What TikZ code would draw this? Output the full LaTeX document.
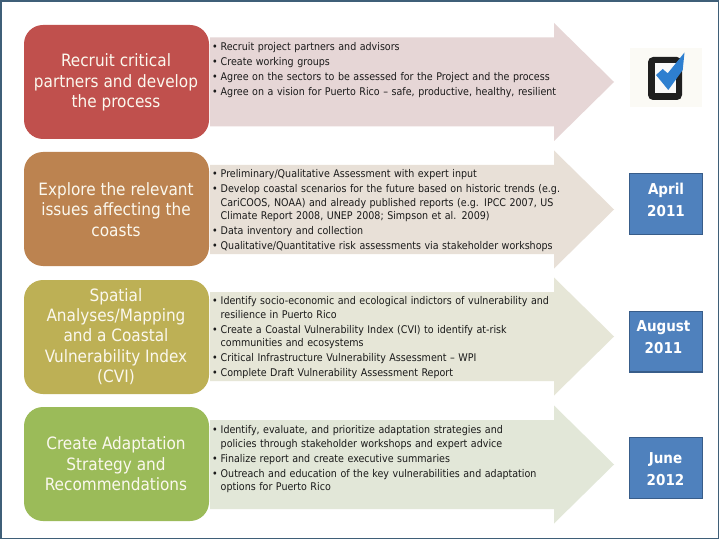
\documentclass[tikz,border=0pt]{standalone}
\usepackage{fontspec}
\setmainfont{DejaVu Sans Condensed}
\usetikzlibrary{shapes.geometric}
\definecolor{frameC}{HTML}{3F5F78}
\definecolor{redC}{HTML}{C0504D}
\definecolor{brownC}{HTML}{BC8350}
\definecolor{oliveC}{HTML}{BDB055}
\definecolor{greenC}{HTML}{9BBB59}
\definecolor{arrA}{HTML}{E6D6D6}
\definecolor{arrB}{HTML}{E8E0D7}
\definecolor{arrC}{HTML}{E6E6D7}
\definecolor{arrD}{HTML}{E2E7D8}
\definecolor{dateC}{HTML}{4F81BD}
\definecolor{dateL}{HTML}{385D8A}
\definecolor{checkC}{HTML}{2E7FD0}
\definecolor{titleC}{HTML}{FBF8EE}
\definecolor{bodyC}{HTML}{1A1A1A}
\definecolor{iconC}{HTML}{FBFAF5}
\newcommand{\bl}[1]{\par\noindent\makebox[8.5pt][l]{•}#1}
\newcommand{\cl}[1]{\par\vskip-1.5pt\noindent\hspace*{8.5pt}#1}
\tikzset{
 x=1pt,y=-1pt,
 phasebox/.style={rounded corners=19pt,draw=none},
 titletext/.style={text=titleC,align=center,font=\fontsize{17}{20.4}\selectfont,inner sep=0},
 listtext/.style={anchor=north west,text=bodyC,text width=355pt,inner sep=0,
   font=\fontsize{10.6}{13.5}\selectfont,execute at begin node={\setlength{\parskip}{1.5pt}\raggedright}},
 dateframe/.style={fill=dateC,draw=dateL,line width=1.4pt},
 datetext/.style={text=white,align=center,inner sep=0,font=\fontsize{15}{21.5}\selectfont\bfseries},
}
\newcommand{\phasearrow}[2]{%
 \fill[#1] (210,#2-44.5) -- (554,#2-44.5) -- (554,#2-59) -- (614,#2) -- (554,#2+59) -- (554,#2+44.5) -- (210,#2+44.5) -- cycle;}
\begin{document}
\begin{tikzpicture}
\useasboundingbox (0,0) rectangle (720,540);
\fill[white] (0,0) rectangle (720,540);
\draw[frameC,line width=1.5pt] (0.8,0.8) rectangle (718.5,538.3);

\phasearrow{arrA}{82}
\phasearrow{arrB}{209.5}
\phasearrow{arrC}{336.5}
\phasearrow{arrD}{464.5}

\fill[phasebox,redC] (24,25) rectangle (209,139);
\fill[phasebox,brownC] (24,152) rectangle (209,266);
\fill[phasebox,oliveC] (24,280) rectangle (209,394);
\fill[phasebox,greenC] (24,407) rectangle (209,521);

\node[titletext] (t1) at (116,82.5) {Recruit critical\\partners and develop\\the process};
\node[titletext] (t2) at (116,209.5) {Explore the relevant\\issues affecting the\\coasts};
\node[titletext] (t3) at (116,336.5) {Spatial\\Analyses/Mapping\\and a Coastal\\Vulnerability Index\\(CVI)};
\node[titletext] (t4) at (116,464) {Create Adaptation\\Strategy and\\Recommendations};

\node[listtext] (l1) at (212,35.5) {%
\bl{Recruit project partners and advisors}
\bl{Create working groups}
\bl{Agree on the sectors to be assessed for the Project and the process}
\bl{Agree on a vision for Puerto Rico – safe, productive, healthy, resilient}};
\node[listtext] (l2) at (212,162.5) {%
\bl{Preliminary/Qualitative Assessment with expert input}
\bl{Develop coastal scenarios for the future based on historic trends (e.g.}
\cl{CariCOOS, NOAA) and already published reports (e.g. IPCC 2007, US}
\cl{Climate Report 2008, UNEP 2008; Simpson et al. 2009)}
\bl{Data inventory and collection}
\bl{Qualitative/Quantitative risk assessments via stakeholder workshops}};
\node[listtext] (l3) at (212,289.5) {%
\bl{Identify socio-economic and ecological indictors of vulnerability and}
\cl{resilience in Puerto Rico}
\bl{Create a Coastal Vulnerability Index (CVI) to identify at-risk}
\cl{communities and ecosystems}
\bl{Critical Infrastructure Vulnerability Assessment – WPI}
\bl{Complete Draft Vulnerability Assessment Report}};
\node[listtext] (l4) at (212,418.5) {%
\bl{Identify, evaluate, and prioritize adaptation strategies and}
\cl{policies through stakeholder workshops and expert advice}
\bl{Finalize report and create executive summaries}
\bl{Outreach and education of the key vulnerabilities and adaptation}
\cl{options for Puerto Rico}};

\fill[iconC] (630,48) rectangle (702,107);
\fill[black!88,rounded corners=5pt] (648,57) rectangle (682,100);
\fill[white!95!gray] (654.5,63) rectangle (676,93);
\fill[checkC] (656,75) -- (662.7,69) -- (667.7,73.3) -- (684.5,52.5) -- (682.7,70) -- (668.3,90) -- cycle;

\filldraw[dateframe] (629.5,173.5) rectangle (702.5,234.5);
\filldraw[dateframe] (629.5,311.5) rectangle (702.5,372);
\filldraw[dateframe] (629.5,437.5) rectangle (702.5,498.5);
\node[datetext] (d1) at (666,200) {April\\2011};
\node[datetext] (d2) at (663.5,337) {August\\2011};
\node[datetext] (d3) at (665.5,469) {June\\2012};
\end{tikzpicture}
\end{document}
